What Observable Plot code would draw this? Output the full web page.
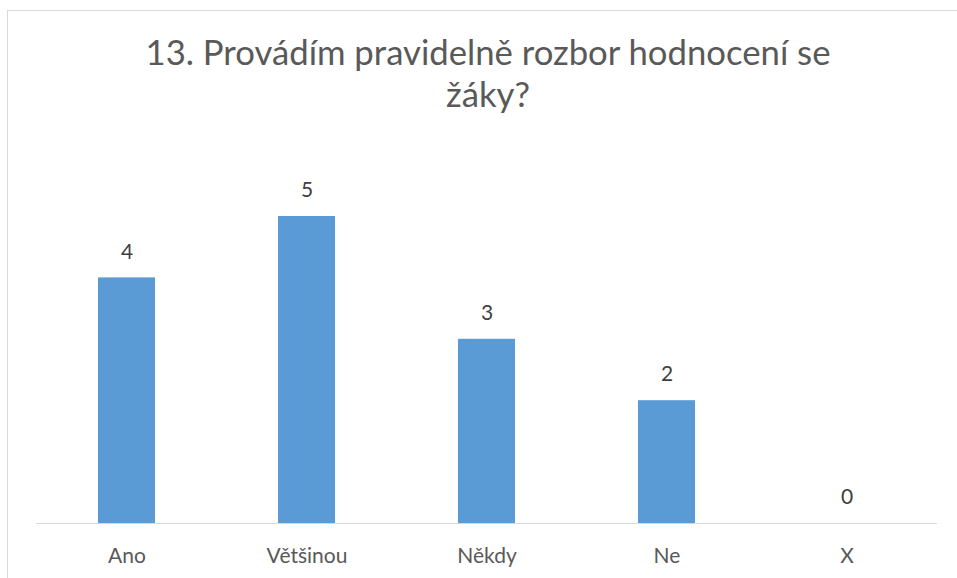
<!DOCTYPE html>
<html>
<head>
<meta charset="utf-8">
<script src="https://cdn.jsdelivr.net/npm/d3@7"></script>
<script src="https://cdn.jsdelivr.net/npm/@observablehq/plot@0.6"></script>
<style>
  html, body { margin: 0; padding: 0; background: #fff; }
  body { width: 957px; height: 578px; overflow: hidden; position: relative; font-family: Lato, "Open Sans", sans-serif; }
  #frame { position: absolute; left: 7px; top: 10px; width: 1000px; height: 1000px; border: 1px solid #d9d9d9; box-sizing: border-box; }
  .title { position: absolute; left: 0; width: 976px; text-align: center; font-size: 34.7px; line-height: 40px; color: #595959; white-space: nowrap; }
  #chart { position: absolute; left: 0; top: 130px; }
</style>
</head>
<body>
<div id="frame"></div>
<div class="title" style="top:32px">13. Provádím pravidelně rozbor hodnocení se</div>
<div class="title" style="top:74px">žáky?</div>
<div id="chart"></div>
<script>
const categories = ["Ano", "Většinou", "Někdy", "Ne", "X"];
const values = [4, 5, 3, 2, 0];

const data = categories.map((c, i) => ({category: c, value: values[i]}));

const chart = Plot.plot({
  width: 957,
  height: 448,
  marginLeft: 36,
  marginRight: 20,
  marginTop: 86,
  marginBottom: 55,
  style: {fontFamily: "Lato, 'Open Sans', sans-serif", background: "transparent", overflow: "visible"},
  x: {domain: categories, paddingInner: 0.684, paddingOuter: 0.342, axis: null},
  y: {domain: [0, 5], axis: null},
  marks: [
    Plot.barY(data, {x: "category", y: "value", fill: "#5b9bd5"}),
    Plot.ruleY([0], {stroke: "#d9d9d9", strokeWidth: 1}),
    Plot.text(data, {x: "category", y: "value", text: d => String(d.value), dy: -26, lineAnchor: "middle", fontSize: 21, fill: "#404040"}),
    Plot.text(data, {x: "category", y: () => 0, text: "category", dy: 33, lineAnchor: "middle", fontSize: 21, fill: "#595959"})
  ]
});
document.getElementById("chart").appendChild(chart);
</script>
</body>
</html>
